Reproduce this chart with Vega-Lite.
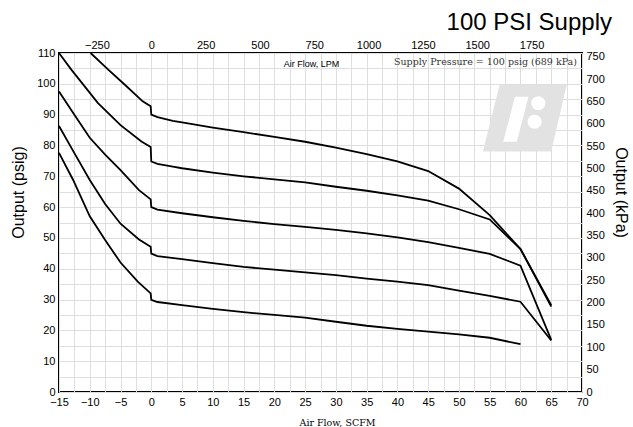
{
  "$schema": "https://vega.github.io/schema/vega-lite/v6.json",
  "width": 523,
  "height": 339,
  "autosize": "none",
  "padding": {"left": 59, "top": 53, "right": 51, "bottom": 35},
  "background": "white",
  "title": {"text": "100 PSI Supply", "anchor": "end", "frame": "group", "fontSize": 24, "font": "Liberation Sans", "fontWeight": "normal", "color": "black", "offset": 4, "dx": 30},
  "datasets": {
    "curves": [
      {"curve": 1, "seq": 0, "scfm": -9.87, "psig": 110},
      {"curve": 1, "seq": 1, "scfm": -7, "psig": 104.6},
      {"curve": 1, "seq": 2, "scfm": -4.3, "psig": 99.7},
      {"curve": 1, "seq": 3, "scfm": -1.4, "psig": 94.3},
      {"curve": 1, "seq": 4, "scfm": -0.1, "psig": 92.7},
      {"curve": 1, "seq": 5, "scfm": 0, "psig": 90.0},
      {"curve": 1, "seq": 6, "scfm": 1, "psig": 89.2},
      {"curve": 1, "seq": 7, "scfm": 3.5, "psig": 88.0},
      {"curve": 1, "seq": 8, "scfm": 5, "psig": 87.5},
      {"curve": 1, "seq": 9, "scfm": 10, "psig": 85.8},
      {"curve": 1, "seq": 10, "scfm": 15, "psig": 84.3},
      {"curve": 1, "seq": 11, "scfm": 20, "psig": 82.8},
      {"curve": 1, "seq": 12, "scfm": 25, "psig": 81.2},
      {"curve": 1, "seq": 13, "scfm": 30, "psig": 79.3},
      {"curve": 1, "seq": 14, "scfm": 35, "psig": 77.2},
      {"curve": 1, "seq": 15, "scfm": 40, "psig": 74.8},
      {"curve": 1, "seq": 16, "scfm": 45, "psig": 71.7},
      {"curve": 1, "seq": 17, "scfm": 50, "psig": 66.0},
      {"curve": 1, "seq": 18, "scfm": 55, "psig": 57.4},
      {"curve": 1, "seq": 19, "scfm": 60, "psig": 46.4},
      {"curve": 1, "seq": 20, "scfm": 65, "psig": 27.7},
      {"curve": 2, "seq": 0, "scfm": -15, "psig": 110},
      {"curve": 2, "seq": 1, "scfm": -13, "psig": 104.6},
      {"curve": 2, "seq": 2, "scfm": -10.6, "psig": 98.6},
      {"curve": 2, "seq": 3, "scfm": -8.7, "psig": 93.8},
      {"curve": 2, "seq": 4, "scfm": -5, "psig": 86.6},
      {"curve": 2, "seq": 5, "scfm": -1.6, "psig": 81.3},
      {"curve": 2, "seq": 6, "scfm": -0.1, "psig": 79.5},
      {"curve": 2, "seq": 7, "scfm": 0, "psig": 74.8},
      {"curve": 2, "seq": 8, "scfm": 1, "psig": 74.0},
      {"curve": 2, "seq": 9, "scfm": 3.5, "psig": 73.1},
      {"curve": 2, "seq": 10, "scfm": 5, "psig": 72.6},
      {"curve": 2, "seq": 11, "scfm": 10, "psig": 71.2},
      {"curve": 2, "seq": 12, "scfm": 15, "psig": 70.0},
      {"curve": 2, "seq": 13, "scfm": 20, "psig": 69.0},
      {"curve": 2, "seq": 14, "scfm": 25, "psig": 68.0},
      {"curve": 2, "seq": 15, "scfm": 30, "psig": 66.6},
      {"curve": 2, "seq": 16, "scfm": 35, "psig": 65.3},
      {"curve": 2, "seq": 17, "scfm": 40, "psig": 63.8},
      {"curve": 2, "seq": 18, "scfm": 45, "psig": 62.1},
      {"curve": 2, "seq": 19, "scfm": 50, "psig": 59.3},
      {"curve": 2, "seq": 20, "scfm": 55, "psig": 56.0},
      {"curve": 2, "seq": 21, "scfm": 60, "psig": 46.4},
      {"curve": 2, "seq": 22, "scfm": 65, "psig": 28.2},
      {"curve": 3, "seq": 0, "scfm": -15, "psig": 97.5},
      {"curve": 3, "seq": 1, "scfm": -12.5, "psig": 90},
      {"curve": 3, "seq": 2, "scfm": -10, "psig": 82.5},
      {"curve": 3, "seq": 3, "scfm": -7.5, "psig": 77},
      {"curve": 3, "seq": 4, "scfm": -5, "psig": 72},
      {"curve": 3, "seq": 5, "scfm": -2, "psig": 65.5},
      {"curve": 3, "seq": 6, "scfm": -0.1, "psig": 62.5},
      {"curve": 3, "seq": 7, "scfm": 0, "psig": 60},
      {"curve": 3, "seq": 8, "scfm": 1, "psig": 59.2},
      {"curve": 3, "seq": 9, "scfm": 5, "psig": 58.0},
      {"curve": 3, "seq": 10, "scfm": 10, "psig": 56.7},
      {"curve": 3, "seq": 11, "scfm": 15, "psig": 55.5},
      {"curve": 3, "seq": 12, "scfm": 20, "psig": 54.5},
      {"curve": 3, "seq": 13, "scfm": 25, "psig": 53.6},
      {"curve": 3, "seq": 14, "scfm": 30, "psig": 52.6},
      {"curve": 3, "seq": 15, "scfm": 35, "psig": 51.5},
      {"curve": 3, "seq": 16, "scfm": 40, "psig": 50.2},
      {"curve": 3, "seq": 17, "scfm": 45, "psig": 48.6},
      {"curve": 3, "seq": 18, "scfm": 50, "psig": 46.8},
      {"curve": 3, "seq": 19, "scfm": 55, "psig": 44.8},
      {"curve": 3, "seq": 20, "scfm": 60, "psig": 41.0},
      {"curve": 3, "seq": 21, "scfm": 65, "psig": 16.9},
      {"curve": 4, "seq": 0, "scfm": -15, "psig": 86.3},
      {"curve": 4, "seq": 1, "scfm": -12.5, "psig": 77.5},
      {"curve": 4, "seq": 2, "scfm": -10, "psig": 68.8},
      {"curve": 4, "seq": 3, "scfm": -7.5, "psig": 61},
      {"curve": 4, "seq": 4, "scfm": -5, "psig": 54.6},
      {"curve": 4, "seq": 5, "scfm": -2, "psig": 49.5},
      {"curve": 4, "seq": 6, "scfm": -0.1, "psig": 47.1},
      {"curve": 4, "seq": 7, "scfm": 0, "psig": 44.9},
      {"curve": 4, "seq": 8, "scfm": 1, "psig": 44.1},
      {"curve": 4, "seq": 9, "scfm": 5, "psig": 43.1},
      {"curve": 4, "seq": 10, "scfm": 10, "psig": 41.8},
      {"curve": 4, "seq": 11, "scfm": 15, "psig": 40.6},
      {"curve": 4, "seq": 12, "scfm": 20, "psig": 39.7},
      {"curve": 4, "seq": 13, "scfm": 25, "psig": 38.8},
      {"curve": 4, "seq": 14, "scfm": 30, "psig": 37.9},
      {"curve": 4, "seq": 15, "scfm": 35, "psig": 36.8},
      {"curve": 4, "seq": 16, "scfm": 40, "psig": 35.8},
      {"curve": 4, "seq": 17, "scfm": 45, "psig": 34.7},
      {"curve": 4, "seq": 18, "scfm": 50, "psig": 32.9},
      {"curve": 4, "seq": 19, "scfm": 55, "psig": 31.2},
      {"curve": 4, "seq": 20, "scfm": 60, "psig": 29.3},
      {"curve": 4, "seq": 21, "scfm": 65, "psig": 16.7},
      {"curve": 5, "seq": 0, "scfm": -15, "psig": 77.6},
      {"curve": 5, "seq": 1, "scfm": -12.7, "psig": 68.8},
      {"curve": 5, "seq": 2, "scfm": -10, "psig": 57},
      {"curve": 5, "seq": 3, "scfm": -7.5, "psig": 49.3},
      {"curve": 5, "seq": 4, "scfm": -5, "psig": 42},
      {"curve": 5, "seq": 5, "scfm": -2.2, "psig": 35.8},
      {"curve": 5, "seq": 6, "scfm": -0.1, "psig": 32},
      {"curve": 5, "seq": 7, "scfm": 0, "psig": 29.9},
      {"curve": 5, "seq": 8, "scfm": 1, "psig": 29.2},
      {"curve": 5, "seq": 9, "scfm": 5, "psig": 28.2},
      {"curve": 5, "seq": 10, "scfm": 10, "psig": 27.0},
      {"curve": 5, "seq": 11, "scfm": 15, "psig": 25.9},
      {"curve": 5, "seq": 12, "scfm": 20, "psig": 25.0},
      {"curve": 5, "seq": 13, "scfm": 25, "psig": 24.1},
      {"curve": 5, "seq": 14, "scfm": 30, "psig": 22.8},
      {"curve": 5, "seq": 15, "scfm": 35, "psig": 21.5},
      {"curve": 5, "seq": 16, "scfm": 40, "psig": 20.5},
      {"curve": 5, "seq": 17, "scfm": 45, "psig": 19.6},
      {"curve": 5, "seq": 18, "scfm": 50, "psig": 18.7},
      {"curve": 5, "seq": 19, "scfm": 55, "psig": 17.6},
      {"curve": 5, "seq": 20, "scfm": 60, "psig": 15.5}
    ],
    "logo_bg": [
      {"scfm": 53.9, "psig": 78, "psig2": 78},
      {"scfm": 56.6, "psig": 99.6, "psig2": 78},
      {"scfm": 65.0, "psig": 99.6, "psig2": 78},
      {"scfm": 67.5, "psig": 99.6, "psig2": 99.6}
    ],
    "logo_bar": [
      {"scfm": 57.2, "psig": 81.2, "psig2": 81.2},
      {"scfm": 59.1, "psig": 95.8, "psig2": 81.2},
      {"scfm": 59.4, "psig": 95.8, "psig2": 81.2},
      {"scfm": 61.3, "psig": 95.8, "psig2": 95.8}
    ],
    "logo_dots": [
      {"scfm": 62.9, "psig": 93.7},
      {"scfm": 62.3, "psig": 87.7}
    ]
  },
  "config": {
    "view": {"stroke": "black", "strokeWidth": 2},
    "axis": {"labelFont": "Liberation Sans", "labelFontSize": 11, "labelColor": "black", "titleColor": "black", "titleFontWeight": "normal", "labelOverlap": false, "labelFlush": false}
  },
  "layer": [
    {
      "layer": [
        {
          "data": {"name": "curves"},
          "mark": {"type": "line", "color": "black", "strokeWidth": 1.8},
          "encoding": {
            "x": {"field": "scfm", "type": "quantitative", "scale": {"domain": [-15, 70], "nice": false, "zero": false},
              "axis": {"orient": "bottom", "values": [-15, -12.5, -10, -7.5, -5, -2.5, 0, 2.5, 5, 7.5, 10, 12.5, 15, 17.5, 20, 22.5, 25, 27.5, 30, 32.5, 35, 37.5, 40, 42.5, 45, 47.5, 50, 52.5, 55, 57.5, 60, 62.5, 65, 67.5, 70],
                "labelExpr": "datum.value % 5 === 0 ? datum.label : ''", "labelOverlap": false, "grid": true, "gridColor": "#dedede", "gridWidth": 1, "ticks": false, "domain": false,
                "title": "Air Flow, SCFM", "titleFont": "DejaVu Serif", "titleFontSize": 9.5, "labelPadding": 4, "titlePadding": 10, "titleX": 278}},
            "y": {"field": "psig", "type": "quantitative", "scale": {"domain": [0, 110], "nice": false},
              "axis": {"orient": "left", "values": [0, 5, 10, 15, 20, 25, 30, 35, 40, 45, 50, 55, 60, 65, 70, 75, 80, 85, 90, 95, 100, 105, 110],
                "labelExpr": "datum.value % 10 === 0 ? datum.label : ''", "labelOverlap": false, "grid": true, "gridColor": "#dedede", "gridWidth": 1, "ticks": false, "domain": false,
                "title": "Output (psig)", "titleFont": "Liberation Sans", "titleFontSize": 16, "labelPadding": 4, "titlePadding": 10, "titleY": 139}},
            "detail": {"field": "curve", "type": "nominal"},
            "order": {"field": "seq", "type": "quantitative"}
          }
        },
        {
          "data": {"name": "logo_bg"},
          "mark": {"type": "area", "color": "#e2e2e2", "opacity": 1},
          "encoding": {
            "x": {"field": "scfm", "type": "quantitative", "scale": {"domain": [-15, 70], "nice": false, "zero": false},
              "axis": {"orient": "bottom", "values": [-15, -12.5, -10, -7.5, -5, -2.5, 0, 2.5, 5, 7.5, 10, 12.5, 15, 17.5, 20, 22.5, 25, 27.5, 30, 32.5, 35, 37.5, 40, 42.5, 45, 47.5, 50, 52.5, 55, 57.5, 60, 62.5, 65, 67.5, 70],
                "labelExpr": "datum.value % 5 === 0 ? datum.label : ''", "labelOverlap": false, "grid": true, "gridColor": "#dedede", "gridWidth": 1, "ticks": false, "domain": false,
                "title": "Air Flow, SCFM", "titleFont": "DejaVu Serif", "titleFontSize": 9.5, "labelPadding": 4, "titlePadding": 10, "titleX": 278}},
            "y": {"field": "psig", "type": "quantitative", "scale": {"domain": [0, 110], "nice": false},
              "axis": {"orient": "left", "values": [0, 5, 10, 15, 20, 25, 30, 35, 40, 45, 50, 55, 60, 65, 70, 75, 80, 85, 90, 95, 100, 105, 110],
                "labelExpr": "datum.value % 10 === 0 ? datum.label : ''", "labelOverlap": false, "grid": true, "gridColor": "#dedede", "gridWidth": 1, "ticks": false, "domain": false,
                "title": "Output (psig)", "titleFont": "Liberation Sans", "titleFontSize": 16, "labelPadding": 4, "titlePadding": 10, "titleY": 139}},
            "y2": {"field": "psig2"}
          }
        },
        {
          "data": {"name": "logo_bar"},
          "mark": {"type": "area", "color": "white", "opacity": 1},
          "encoding": {
            "x": {"field": "scfm", "type": "quantitative", "scale": {"domain": [-15, 70], "nice": false, "zero": false},
              "axis": {"orient": "bottom", "values": [-15, -12.5, -10, -7.5, -5, -2.5, 0, 2.5, 5, 7.5, 10, 12.5, 15, 17.5, 20, 22.5, 25, 27.5, 30, 32.5, 35, 37.5, 40, 42.5, 45, 47.5, 50, 52.5, 55, 57.5, 60, 62.5, 65, 67.5, 70],
                "labelExpr": "datum.value % 5 === 0 ? datum.label : ''", "labelOverlap": false, "grid": true, "gridColor": "#dedede", "gridWidth": 1, "ticks": false, "domain": false,
                "title": "Air Flow, SCFM", "titleFont": "DejaVu Serif", "titleFontSize": 9.5, "labelPadding": 4, "titlePadding": 10, "titleX": 278}},
            "y": {"field": "psig", "type": "quantitative", "scale": {"domain": [0, 110], "nice": false},
              "axis": {"orient": "left", "values": [0, 5, 10, 15, 20, 25, 30, 35, 40, 45, 50, 55, 60, 65, 70, 75, 80, 85, 90, 95, 100, 105, 110],
                "labelExpr": "datum.value % 10 === 0 ? datum.label : ''", "labelOverlap": false, "grid": true, "gridColor": "#dedede", "gridWidth": 1, "ticks": false, "domain": false,
                "title": "Output (psig)", "titleFont": "Liberation Sans", "titleFontSize": 16, "labelPadding": 4, "titlePadding": 10, "titleY": 139}},
            "y2": {"field": "psig2"}
          }
        },
        {
          "data": {"name": "logo_dots"},
          "mark": {"type": "point", "shape": "circle", "filled": true, "color": "white", "opacity": 1, "size": 200},
          "encoding": {
            "x": {"field": "scfm", "type": "quantitative", "scale": {"domain": [-15, 70], "nice": false, "zero": false},
              "axis": {"orient": "bottom", "values": [-15, -12.5, -10, -7.5, -5, -2.5, 0, 2.5, 5, 7.5, 10, 12.5, 15, 17.5, 20, 22.5, 25, 27.5, 30, 32.5, 35, 37.5, 40, 42.5, 45, 47.5, 50, 52.5, 55, 57.5, 60, 62.5, 65, 67.5, 70],
                "labelExpr": "datum.value % 5 === 0 ? datum.label : ''", "labelOverlap": false, "grid": true, "gridColor": "#dedede", "gridWidth": 1, "ticks": false, "domain": false,
                "title": "Air Flow, SCFM", "titleFont": "DejaVu Serif", "titleFontSize": 9.5, "labelPadding": 4, "titlePadding": 10, "titleX": 278}},
            "y": {"field": "psig", "type": "quantitative", "scale": {"domain": [0, 110], "nice": false},
              "axis": {"orient": "left", "values": [0, 5, 10, 15, 20, 25, 30, 35, 40, 45, 50, 55, 60, 65, 70, 75, 80, 85, 90, 95, 100, 105, 110],
                "labelExpr": "datum.value % 10 === 0 ? datum.label : ''", "labelOverlap": false, "grid": true, "gridColor": "#dedede", "gridWidth": 1, "ticks": false, "domain": false,
                "title": "Output (psig)", "titleFont": "Liberation Sans", "titleFontSize": 16, "labelPadding": 4, "titlePadding": 10, "titleY": 139}}
          }
        },
        {
          "data": {"values": [{}]},
          "mark": {"type": "text", "text": "Supply Pressure = 100 psig (689 kPa)", "align": "right", "baseline": "middle", "font": "DejaVu Serif", "fontSize": 9.5, "color": "#333333", "dx": -5, "dy": 9},
          "encoding": {
            "x": {"datum": 70, "type": "quantitative", "scale": {"domain": [-15, 70], "nice": false, "zero": false},
              "axis": {"orient": "bottom", "values": [-15, -12.5, -10, -7.5, -5, -2.5, 0, 2.5, 5, 7.5, 10, 12.5, 15, 17.5, 20, 22.5, 25, 27.5, 30, 32.5, 35, 37.5, 40, 42.5, 45, 47.5, 50, 52.5, 55, 57.5, 60, 62.5, 65, 67.5, 70],
                "labelExpr": "datum.value % 5 === 0 ? datum.label : ''", "labelOverlap": false, "grid": true, "gridColor": "#dedede", "gridWidth": 1, "ticks": false, "domain": false,
                "title": "Air Flow, SCFM", "titleFont": "DejaVu Serif", "titleFontSize": 9.5, "labelPadding": 4, "titlePadding": 10, "titleX": 278}},
            "y": {"datum": 110, "type": "quantitative", "scale": {"domain": [0, 110], "nice": false},
              "axis": {"orient": "left", "values": [0, 5, 10, 15, 20, 25, 30, 35, 40, 45, 50, 55, 60, 65, 70, 75, 80, 85, 90, 95, 100, 105, 110],
                "labelExpr": "datum.value % 10 === 0 ? datum.label : ''", "labelOverlap": false, "grid": true, "gridColor": "#dedede", "gridWidth": 1, "ticks": false, "domain": false,
                "title": "Output (psig)", "titleFont": "Liberation Sans", "titleFontSize": 16, "labelPadding": 4, "titlePadding": 10, "titleY": 139}}
          }
        }
      ]
    },
    {
      "data": {"values": [{}]},
      "mark": {"type": "point", "opacity": 0},
      "encoding": {
        "x": {"datum": 0, "type": "quantitative", "scale": {"domain": [-424.75, 1982.18], "nice": false, "zero": false},
          "axis": {"orient": "top", "values": [-250, 0, 250, 500, 750, 1000, 1250, 1500, 1750], "format": "d", "labelOverlap": false, "grid": false, "ticks": false, "domain": false, "labelPadding": 3,
            "title": "Air Flow, LPM", "titleFont": "Liberation Sans", "titleFontSize": 9, "titleY": 10, "titleX": 252, "titleBaseline": "middle"}},
        "y": {"datum": 0, "type": "quantitative", "scale": {"domain": [0, 758.42], "nice": false},
          "axis": {"orient": "right", "values": [0, 50, 100, 150, 200, 250, 300, 350, 400, 450, 500, 550, 600, 650, 700, 750], "labelOverlap": false, "grid": false, "ticks": false, "domain": false, "labelPadding": 4,
            "title": "Output (kPa)", "titleFont": "Liberation Sans", "titleFontSize": 16, "titlePadding": 8, "titleY": 139}}
      }
    }
  ],
  "resolve": {"scale": {"x": "independent", "y": "independent"}}
}
